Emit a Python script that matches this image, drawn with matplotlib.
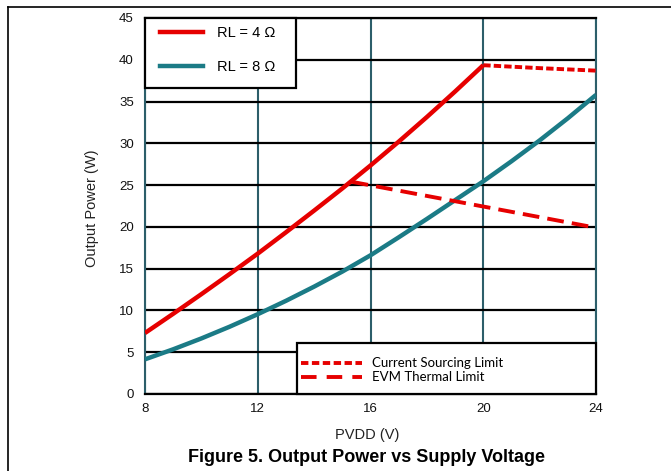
import matplotlib
matplotlib.use("Agg")
import matplotlib.pyplot as plt
from matplotlib.lines import Line2D
from matplotlib.patches import Rectangle

# ---- data ----
pvdd = [8, 9, 10, 11, 12, 13, 14, 15, 16, 17, 18, 19, 20, 21, 22, 23, 24]
v_4ohm = [8, 9, 10, 11, 12, 13, 14, 15, 16, 17, 18, 19, 20]
p_4ohm = [7.3, 9.6, 11.95, 14.35, 16.8, 19.35, 21.95, 24.6, 27.35, 30.2, 33.15, 36.2, 39.35]
p_8ohm = [4.15, 5.35, 6.65, 8.05, 9.55, 11.15, 12.85, 14.65, 16.6, 18.75, 20.95, 23.2,
          25.45, 27.85, 30.35, 33.0, 35.8]
v_current_limit = [20, 22, 24]
p_current_limit = [39.35, 39.0, 38.7]
v_thermal_limit = [15.33, 24]
p_thermal_limit = [25.4, 19.9]
xticks = [8, 12, 16, 20, 24]
yticks = [0, 5, 10, 15, 20, 25, 30, 35, 40, 45]

RED = "#E60000"
TEAL = "#1B7B86"
GRIDV = "#2C5E6A"

W, H = 671, 471
plt.rcParams["font.family"] = ["Liberation Sans", "DejaVu Sans"]
fig = plt.figure(figsize=(W / 100, H / 100), dpi=100)

ax = fig.add_axes([145 / W, 1 - 394 / H, 451 / W, 376 / H])
ax.set_xlim(8, 24)
ax.set_ylim(0, 45)
ax.set_xticks(xticks)
ax.set_yticks(yticks)
ax.tick_params(length=0, labelsize=9.5, colors="#111111")
ax.tick_params(axis="x", pad=6.5)
ax.tick_params(axis="y", pad=8)

for v in xticks:
    ax.axvline(v, color=GRIDV, lw=1.5, zorder=1)
for p in yticks:
    ax.axhline(p, color="black", lw=1.6, zorder=1.5)
for s in ["left", "right"]:
    ax.spines[s].set_color(GRIDV)
    ax.spines[s].set_linewidth(1.5)
for s in ["top", "bottom"]:
    ax.spines[s].set_color("black")
    ax.spines[s].set_linewidth(1.6)

ax.plot(v_4ohm, p_4ohm, color=RED, lw=3.2, solid_capstyle="butt",
        solid_joinstyle="round", zorder=3)
ax.plot(pvdd, p_8ohm, color=TEAL, lw=3.2, solid_capstyle="butt",
        solid_joinstyle="round", zorder=3)
ax.plot(v_current_limit, p_current_limit, color=RED, lw=2.8, dashes=(1.9, 0.8), zorder=3)
ax.plot(v_thermal_limit, p_thermal_limit, color=RED, lw=2.8, dashes=(4.3, 2.1), zorder=3)

# legend 1 box
ax.add_patch(Rectangle((0, (394 - 88) / 376), (296 - 145) / 451, (88 - 18) / 376,
                       transform=ax.transAxes, facecolor="white", edgecolor="black",
                       lw=1.6, zorder=5, clip_on=False))
h1 = [Line2D([], [], color=RED, lw=3.2), Line2D([], [], color=TEAL, lw=3.2)]
leg1 = ax.legend(h1, ["RL = 4 \u03a9", "RL = 8 \u03a9"], loc="upper left",
                 bbox_to_anchor=(11 / 451, 1 - 4 / 376), frameon=False,
                 prop={"family": "Liberation Sans", "size": 10.5},
                 handlelength=2.9, handletextpad=0.95, labelspacing=1.35,
                 borderpad=0.3, borderaxespad=0)
leg1.set_zorder(6)
ax.add_artist(leg1)

# legend 2 box
ax.add_patch(Rectangle(((297 - 145) / 451, 0), (596 - 297) / 451, (394 - 343) / 376,
                       transform=ax.transAxes, facecolor="white", edgecolor="black",
                       lw=1.6, zorder=5, clip_on=False))
h2 = [Line2D([], [], color=RED, lw=2.8, dashes=(1.9, 0.9)),
      Line2D([], [], color=RED, lw=2.8, dashes=(4.0, 2.6))]
leg2 = ax.legend(h2, ["Current Sourcing Limit", "EVM Thermal Limit"], loc="upper left",
                 bbox_to_anchor=((300 - 145) / 451, (394 - 356) / 376), frameon=False,
                 prop={"family": ["Lato", "DejaVu Sans"], "size": 9.5},
                 handlelength=4.6, handletextpad=0.75, labelspacing=0.15,
                 borderpad=0.1, borderaxespad=0)
leg2.set_zorder(6)

fig.text(92 / W, 1 - 208 / H, "Output Power (W)", rotation=90, ha="center", va="center",
         fontsize=10.5, color="#222222")
fig.text(367 / W, 1 - 435 / H, "PVDD (V)", ha="center", va="center", fontsize=10.5,
         color="#222222")
fig.text(366 / W, 1 - 457.5 / H, "Figure 5. Output Power vs Supply Voltage", ha="center",
         va="center", fontsize=13, fontweight="bold", color="black")

# outer frame
fig.add_artist(Line2D([8 / W, 8 / W], [1 - 7 / H, 0], transform=fig.transFigure,
                      color="black", lw=1.2))
fig.add_artist(Line2D([8 / W, 1], [1 - 7 / H, 1 - 7 / H], transform=fig.transFigure,
                      color="black", lw=1.2))

fig.savefig("out.png", dpi=100)
